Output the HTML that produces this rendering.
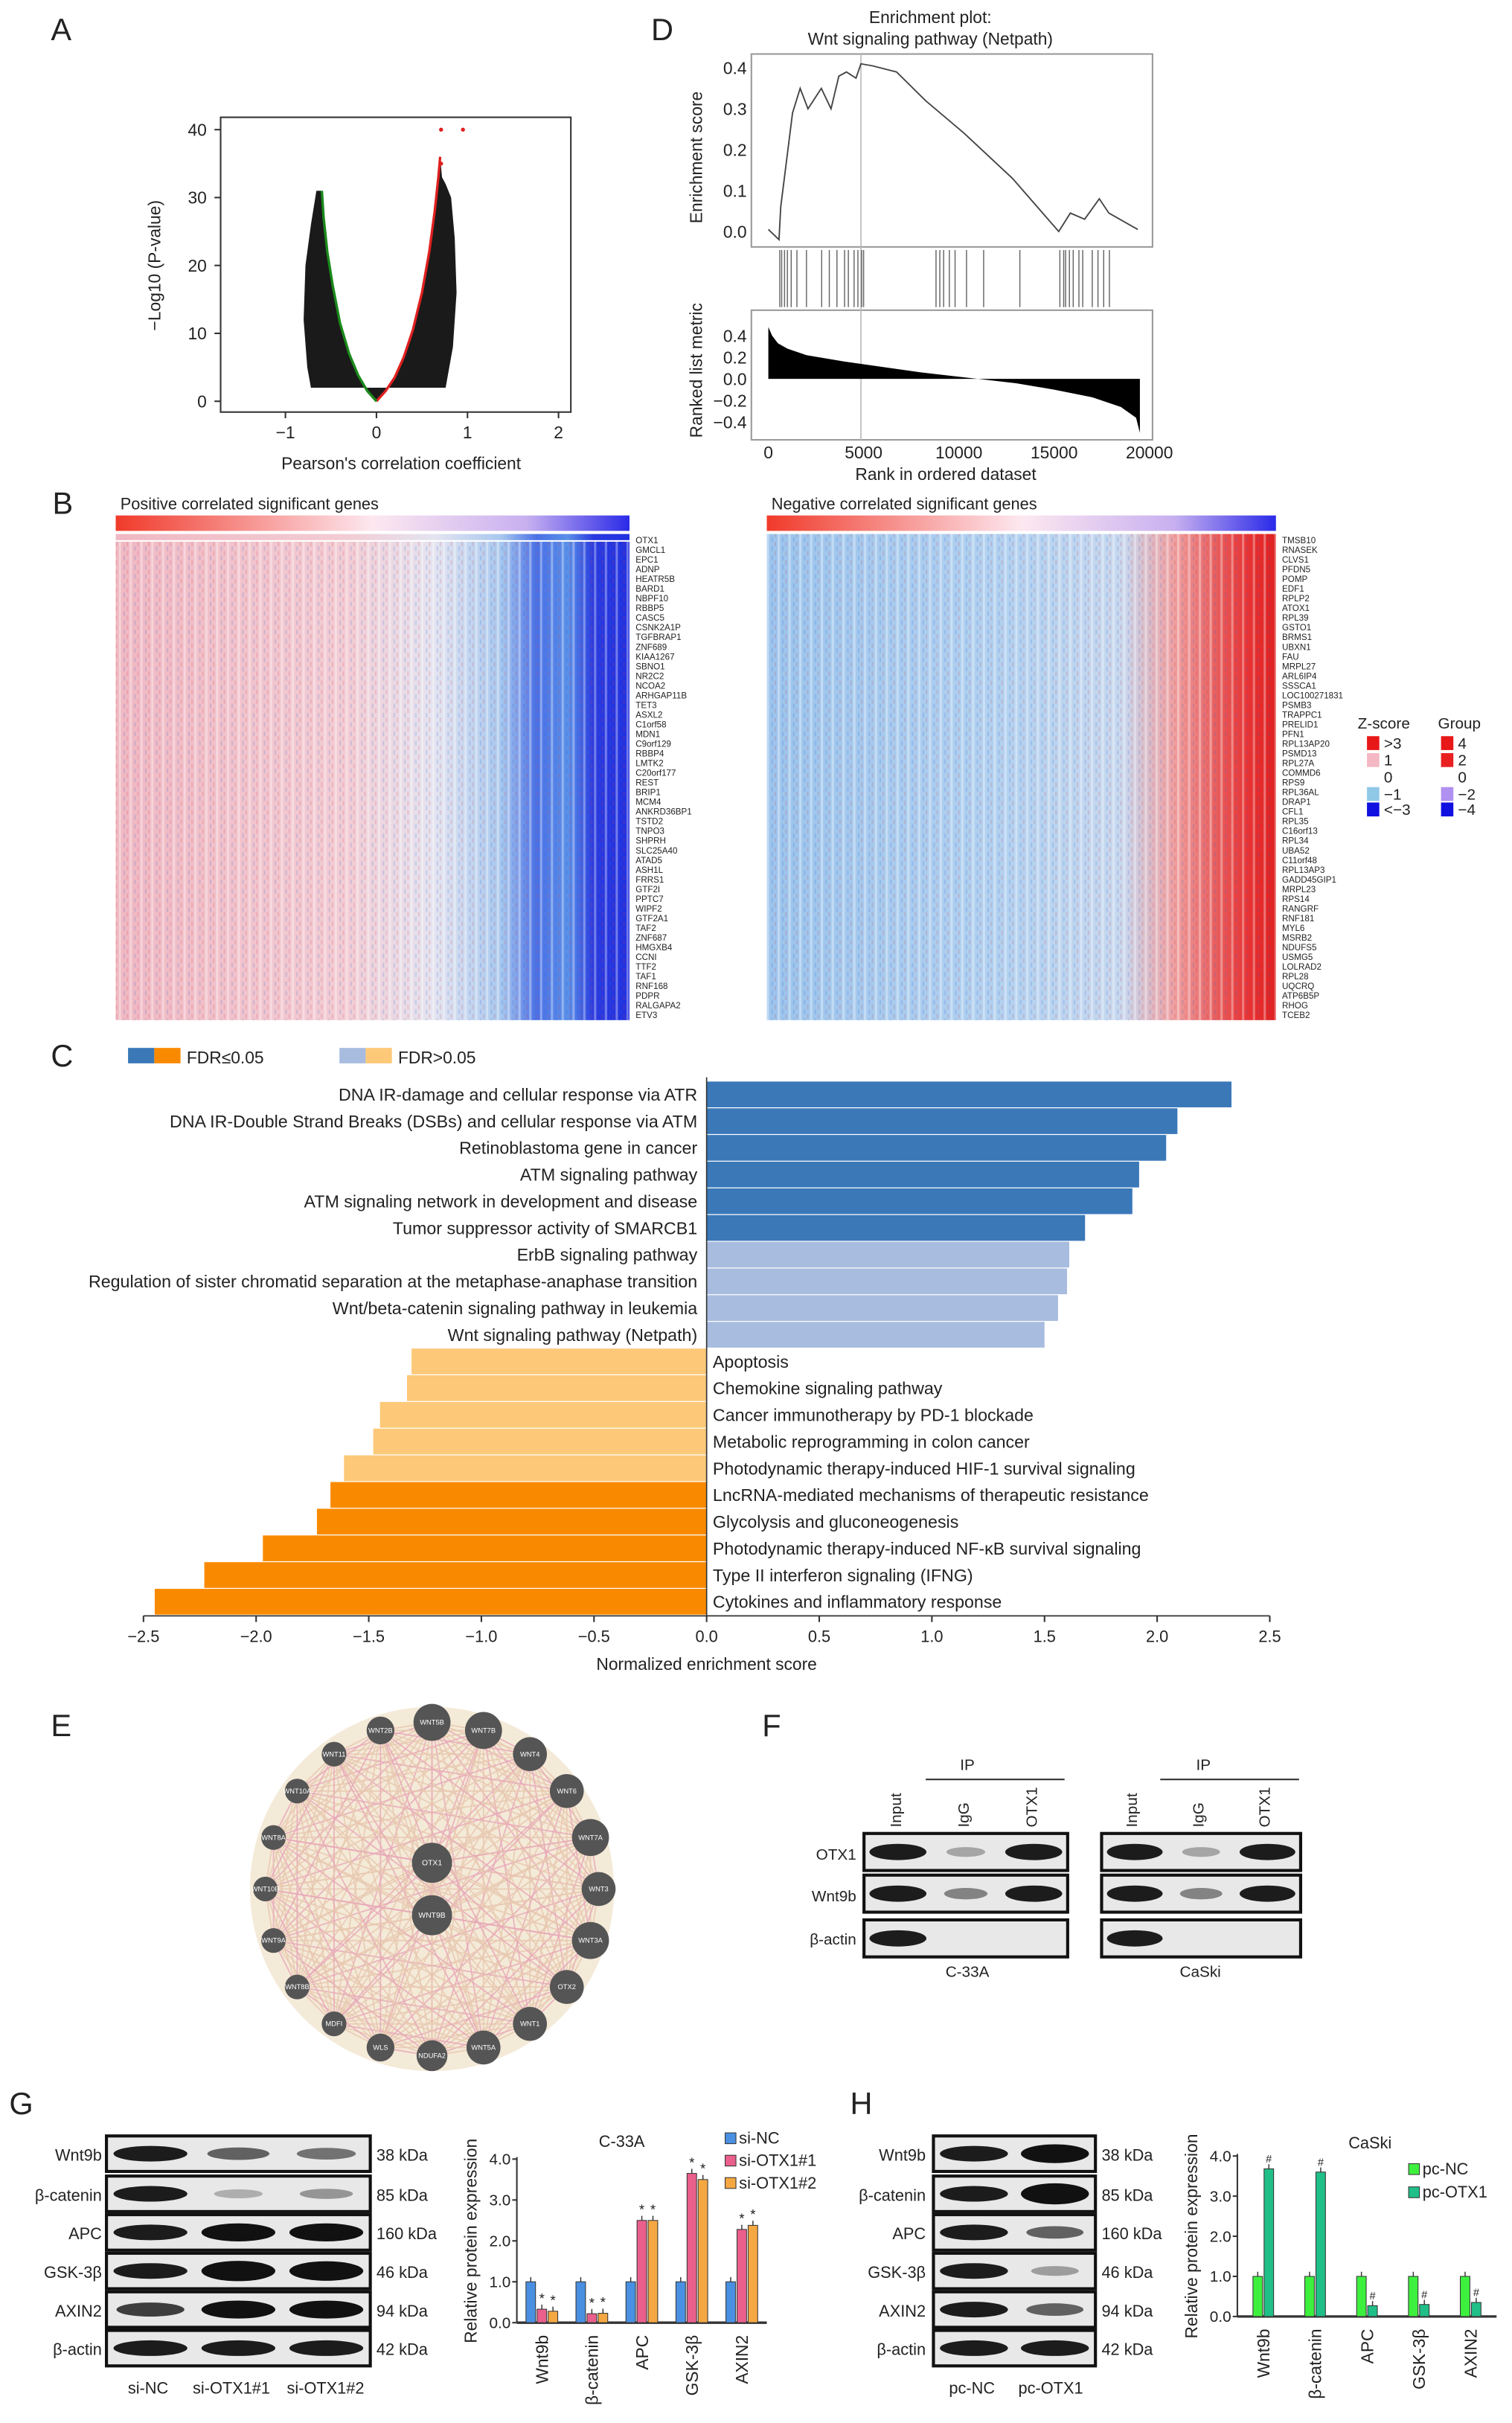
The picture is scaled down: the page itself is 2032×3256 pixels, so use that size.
<!DOCTYPE html>
<html><head><meta charset="utf-8"><style>
html,body{margin:0;padding:0;background:#fff}
svg{display:block}
text{font-family:"Liberation Sans",sans-serif;fill:#222}
</style></head><body>
<svg id="fig" width="2032" height="3256" viewBox="0 0 980 1570" preserveAspectRatio="none" xmlns="http://www.w3.org/2000/svg">
<defs>
<linearGradient id="rb2" x1="0" x2="1"><stop offset="0" stop-color="#f03a2a"/><stop offset="0.5" stop-color="#fde8f0"/><stop offset="0.8" stop-color="#c8b0f0"/><stop offset="1" stop-color="#2a2ae8"/></linearGradient>
<linearGradient id="hmL" x1="0" x2="1"><stop offset="0" stop-color="#f0b8c2"/><stop offset="0.45" stop-color="#f2ccd4"/><stop offset="0.62" stop-color="#e4e4f0"/><stop offset="0.75" stop-color="#a8c8ee"/><stop offset="0.82" stop-color="#4a70e6"/><stop offset="0.88" stop-color="#5a90e8"/><stop offset="0.93" stop-color="#2a3ae0"/><stop offset="1" stop-color="#2030e0"/></linearGradient>
<linearGradient id="hmR" x1="0" x2="1"><stop offset="0" stop-color="#9cc4ec"/><stop offset="0.5" stop-color="#b4d2f0"/><stop offset="0.7" stop-color="#c8d8ee"/><stop offset="0.8" stop-color="#f0a0a0"/><stop offset="0.88" stop-color="#e86060"/><stop offset="0.95" stop-color="#e83030"/><stop offset="1" stop-color="#e02020"/></linearGradient>
<pattern id="tex" width="7" height="6" patternUnits="userSpaceOnUse"><rect x="0" y="0" width="1.5" height="6" fill="#fff" opacity="0.35"/><rect x="3" y="0" width="1" height="3" fill="#3060d0" opacity="0.18"/><rect x="5" y="3" width="1" height="3" fill="#d04050" opacity="0.18"/></pattern>
</defs>

<g font-size="20">
<text x="33" y="26">A</text><text x="422" y="26">D</text><text x="34" y="333">B</text><text x="33" y="691">C</text><text x="33" y="1125">E</text><text x="494" y="1125">F</text><text x="6" y="1370">G</text><text x="551" y="1370">H</text>
</g>

<!-- Panel A -->
<g id="volcano">
<rect x="143" y="76" width="227" height="191" fill="none" stroke="#333" stroke-width="1"/>
<text transform="translate(104,172) rotate(-90)" text-anchor="middle" font-size="11">−Log10 (P-value)</text>
<text x="260" y="304" text-anchor="middle" font-size="11">Pearson's correlation coefficient</text>
</g>

<!-- Panel D -->
<g id="gsea">
<text x="603" y="15" text-anchor="middle" font-size="11">Enrichment plot:</text>
<text x="603" y="29" text-anchor="middle" font-size="11">Wnt signaling pathway (Netpath)</text>
<rect x="487" y="35" width="260" height="125" fill="none" stroke="#999"/>
<rect x="487" y="201" width="260" height="84" fill="none" stroke="#999"/>
<text transform="translate(455,102) rotate(-90)" text-anchor="middle" font-size="11">Enrichment score</text>
<text transform="translate(455,240) rotate(-90)" text-anchor="middle" font-size="11">Ranked list metric</text>
<text x="613" y="311" text-anchor="middle" font-size="11">Rank in ordered dataset</text>
</g>

<!-- Panel B -->
<g>
<text x="78" y="330" font-size="10.5">Positive correlated significant genes</text>
<text x="500" y="330" font-size="10.5">Negative correlated significant genes</text>
<rect x="75" y="334" width="333" height="10" fill="url(#rb2)"/>
<rect x="497" y="334" width="330" height="10" fill="url(#rb2)"/>
<rect x="75" y="346" width="333" height="4" fill="url(#hmL)"/>
<rect x="75" y="351" width="333" height="310" fill="url(#hmL)"/>
<rect x="75" y="351" width="333" height="310" fill="url(#tex)"/>
<rect x="497" y="346" width="330" height="315" fill="url(#hmR)"/>
<rect x="497" y="346" width="330" height="315" fill="url(#tex)"/>
<g id="genesL" font-size="5.6"></g><g id="genesR" font-size="5.6"></g>
<g font-size="10">
<text x="880" y="472">Z-score</text><text x="932" y="472">Group</text>
<rect x="886" y="477" width="8" height="9" fill="#e81818"/><text x="897" y="485">&gt;3</text>
<rect x="886" y="488" width="8" height="9" fill="#f4b8c4"/><text x="897" y="496">1</text>
<text x="897" y="507">0</text>
<rect x="886" y="510" width="8" height="9" fill="#90c8e8"/><text x="897" y="518">−1</text>
<rect x="886" y="520" width="8" height="9" fill="#1010e0"/><text x="897" y="528">&lt;−3</text>
<rect x="934" y="477" width="8" height="9" fill="#e81818"/><text x="945" y="485">4</text>
<rect x="934" y="488" width="8" height="9" fill="#e82020"/><text x="945" y="496">2</text>
<text x="945" y="507">0</text>
<rect x="934" y="510" width="8" height="9" fill="#b090f0"/><text x="945" y="518">−2</text>
<rect x="934" y="520" width="8" height="9" fill="#1010e0"/><text x="945" y="528">−4</text>
</g>
</g>

<!-- Panel C -->
<g id="nes">
<g font-size="11">
<rect x="83" y="679" width="17" height="10" fill="#3a78b8"/><rect x="100" y="679" width="17" height="10" fill="#f98a00"/><text x="121" y="689">FDR≤0.05</text>
<rect x="220" y="679" width="17" height="10" fill="#a8bce0"/><rect x="237" y="679" width="17" height="10" fill="#fdc878"/><text x="258" y="689">FDR&gt;0.05</text>
</g>
<text x="458" y="1082" text-anchor="middle" font-size="11">Normalized enrichment score</text>
</g>

<!-- Panel E -->
<g id="net">
<circle cx="280" cy="1224" r="118" fill="#f4ead8"/>
</g>

<!-- Panel F -->
<g font-size="10">
<text x="627" y="1147" text-anchor="middle">IP</text><line x1="600" y1="1153" x2="690" y2="1153" stroke="#333"/>
<text x="780" y="1147" text-anchor="middle">IP</text><line x1="752" y1="1153" x2="842" y2="1153" stroke="#333"/>
<g id="fblots"></g>
<text x="555" y="1205" text-anchor="end">OTX1</text><text x="555" y="1232" text-anchor="end">Wnt9b</text><text x="555" y="1260" text-anchor="end">β-actin</text>
<text x="627" y="1281" text-anchor="middle">C-33A</text><text x="778" y="1281" text-anchor="middle">CaSki</text>
</g>

<g id="wb" font-size="10.5"></g>
<g id="barG"></g>
<g id="barH"></g>
</svg>

<script>
const NS='http://www.w3.org/2000/svg';
function mk(tag,attrs,parent,txt){const e=document.createElementNS(NS,tag);for(const k in attrs)e.setAttribute(k,attrs[k]);if(txt!==undefined)e.textContent=txt;parent.appendChild(e);return e;}

// ---------- Panel A data ----------
const volTicksX=[-1,0,1,2];
const volTicksY=[0,10,20,30,40];
const redR=[0,0.1,0.2,0.3,0.4,0.5,0.58,0.64,0.68,0.7];
const redP=[0,1.5,3.5,6.5,10.5,16,22,28,33,36];
const greenR=[0,-0.1,-0.2,-0.3,-0.4,-0.48,-0.54,-0.58,-0.6];
const greenP=[0,1.5,3.8,7,11.5,17,22,27,31];
const cloudR=[-0.6,-0.66,-0.72,-0.78,-0.8,-0.76,-0.72,-0.3,0.3,0.76,0.84,0.88,0.86,0.82,0.76,0.72];
const cloudP=[31,31,26,20,12,5,2,2,2,2,8,16,24,30,32,33];
(function(){
 const g=document.getElementById('volcano');
 const X=v=>244+v*59, Y=v=>260-v*4.4;
 volTicksX.forEach(t=>{mk('line',{x1:X(t),y1:267,x2:X(t),y2:271,stroke:'#333'},g);const e=mk('text',{x:X(t),y:284,'text-anchor':'middle','font-size':11},g,t<0?'−'+(-t):t);});
 volTicksY.forEach(t=>{mk('line',{x1:139,y1:Y(t),x2:143,y2:Y(t),stroke:'#333'},g);const e=mk('text',{x:134,y:Y(t)+4,'text-anchor':'end','font-size':11},g,t);});
 let pts=[];
 for(let i=0;i<greenR.length;i++)pts.push(X(greenR[i])+','+Y(greenP[i]));
 for(let i=0;i<cloudR.length;i++)pts.push(X(cloudR[i])+','+Y(cloudP[i]));
 for(let i=redR.length-1;i>=0;i--)pts.push(X(redR[i])+','+Y(redP[i]));
 const cl=mk('polygon',{points:pts.join(' '),fill:'#1a1a1a'},g);
 
 const rl=mk('polyline',{points:redR.map((r,i)=>X(r)+','+Y(redP[i])).join(' '),fill:'none',stroke:'#e02020','stroke-width':1.6},g);
 
 const gl=mk('polyline',{points:greenR.map((r,i)=>X(r)+','+Y(greenP[i])).join(' '),fill:'none',stroke:'#1a8a1a','stroke-width':1.6},g);
 
 [[0.71,40],[0.95,40],[0.71,35]].forEach(p=>mk('circle',{cx:X(p[0]),cy:Y(p[1]),r:1.3,fill:'#e02020'},g));
})();

// ---------- Panel D data ----------
const esRank=[0,560,650,1270,1670,2080,2780,3290,3700,4100,4600,4860,5470,6730,8250,10280,12810,15240,15850,16600,17370,17870,19390];
const esVal=[0.005,-0.02,0.06,0.29,0.35,0.30,0.35,0.30,0.38,0.39,0.375,0.41,0.405,0.39,0.32,0.24,0.13,0.0,0.045,0.03,0.08,0.045,0.005];
const hitRanks=[600,700,850,1000,1200,1500,2000,2800,3200,3600,4000,4200,4500,4700,4900,5000,8800,9000,9200,9500,9800,10400,11300,13200,15300,15500,15600,15800,16000,16300,16500,17000,17300,17600,17900];
const metRank=[0,200,500,1000,2000,4000,6000,8000,10000,11000,13000,15000,17000,18500,19300,19500];
const metVal=[0.48,0.40,0.33,0.28,0.22,0.16,0.11,0.06,0.02,0,-0.04,-0.10,-0.17,-0.26,-0.36,-0.50];
const esTicks=[0,0.1,0.2,0.3,0.4];
const metTicks=[-0.4,-0.2,0,0.2,0.4];
const rankTicks=[0,5000,10000,15000,20000];
(function(){
 const g=document.getElementById('gsea');
 const X=r=>498+r*247/20000, YE=v=>150-v*265, YM=v=>245.5-v*70;
 esTicks.forEach(t=>mk('text',{x:484,y:YE(t)+4,'text-anchor':'end','font-size':11},g,t.toFixed(1)));
 metTicks.forEach(t=>mk('text',{x:484,y:YM(t)+4,'text-anchor':'end','font-size':11},g,t<0?'−'+(-t).toFixed(1):t.toFixed(1)));
 rankTicks.forEach(t=>mk('text',{x:X(t),y:297,'text-anchor':'middle','font-size':11},g,t));
 mk('line',{x1:X(4860),y1:35,x2:X(4860),y2:285,stroke:'#bbb','stroke-width':0.8},g);
 const es=mk('polyline',{points:esRank.map((r,i)=>X(r)+','+YE(esVal[i])).join(' '),fill:'none',stroke:'#444','stroke-width':0.9},g);
 
 hitRanks.forEach(r=>{const l=mk('line',{x1:X(r),y1:162,x2:X(r),y2:199,stroke:'#666','stroke-width':0.7},g);});
 const p=[X(0)+','+YM(0)].concat(metRank.map((r,i)=>X(r)+','+YM(metVal[i]))).concat([X(19500)+','+YM(0)]);
 const m=mk('polygon',{points:p.join(' '),fill:'#000'},g);
 
})();

// ---------- Panel B gene labels ----------
const genesLeft=['OTX1','GMCL1','EPC1','ADNP','HEATR5B','BARD1','NBPF10','RBBP5','CASC5','CSNK2A1P','TGFBRAP1','ZNF689','KIAA1267','SBNO1','NR2C2','NCOA2','ARHGAP11B','TET3','ASXL2','C1orf58','MDN1','C9orf129','RBBP4','LMTK2','C20orf177','REST','BRIP1','MCM4','ANKRD36BP1','TSTD2','TNPO3','SHPRH','SLC25A40','ATAD5','ASH1L','FRRS1','GTF2I','PPTC7','WIPF2','GTF2A1','TAF2','ZNF687','HMGXB4','CCNI','TTF2','TAF1','RNF168','PDPR','RALGAPA2','ETV3'];
const genesRight=['TMSB10','RNASEK','CLVS1','PFDN5','POMP','EDF1','RPLP2','ATOX1','RPL39','GSTO1','BRMS1','UBXN1','FAU','MRPL27','ARL6IP4','SSSCA1','LOC100271831','PSMB3','TRAPPC1','PRELID1','PFN1','RPL13AP20','PSMD13','RPL27A','COMMD6','RPS9','RPL36AL','DRAP1','CFL1','RPL35','C16orf13','RPL34','UBA52','C11orf48','RPL13AP3','GADD45GIP1','MRPL23','RPS14','RANGRF','RNF181','MYL6','MSRB2','NDUFS5','USMG5','LOLRAD2','RPL28','UQCRQ','ATP6B5P','RHOG','TCEB2'];
genesLeft.forEach((n,i)=>{const e=mk('text',{x:412,y:352+i*6.28},document.getElementById('genesL'),n);});
genesRight.forEach((n,i)=>{const e=mk('text',{x:831,y:352+i*6.28},document.getElementById('genesR'),n);});

// ---------- Panel C data ----------
const pathways=['DNA IR-damage and cellular response via ATR','DNA IR-Double Strand Breaks (DSBs) and cellular response via ATM','Retinoblastoma gene in cancer','ATM signaling pathway','ATM signaling network in development and disease','Tumor suppressor activity of SMARCB1','ErbB signaling pathway','Regulation of sister chromatid separation at the metaphase-anaphase transition','Wnt/beta-catenin signaling pathway in leukemia','Wnt signaling pathway (Netpath)','Apoptosis','Chemokine signaling pathway','Cancer immunotherapy by PD-1 blockade','Metabolic reprogramming in colon cancer','Photodynamic therapy-induced HIF-1 survival signaling','LncRNA-mediated mechanisms of therapeutic resistance','Glycolysis and gluconeogenesis','Photodynamic therapy-induced NF-κB survival signaling','Type II interferon signaling (IFNG)','Cytokines and inflammatory response'];
const nesValues=[2.33,2.09,2.04,1.92,1.89,1.68,1.61,1.60,1.56,1.50,-1.31,-1.33,-1.45,-1.48,-1.61,-1.67,-1.73,-1.97,-2.23,-2.45];
const fdrSig=[1,1,1,1,1,1,0,0,0,0,0,0,0,0,0,1,1,1,1,1];
const nesTicks=[-2.5,-2.0,-1.5,-1.0,-0.5,0,0.5,1.0,1.5,2.0,2.5];
(function(){
 const g=document.getElementById('nes');
 const X=v=>458+v*146, bandH=17.3, y0=700.5;
 nesValues.forEach((v,i)=>{
  const y=y0+i*bandH;
  const col=v>0?(fdrSig[i]?'#3a78b8':'#a8bce0'):(fdrSig[i]?'#f98a00':'#fdc878');
  const r=mk('rect',{x:Math.min(X(0),X(v)),y:y+0.3,width:Math.abs(X(v)-X(0)),height:bandH-0.6,fill:col},g);
  
  const t=mk('text',{x:v>0?452:462,y:y+bandH/2+4,'text-anchor':v>0?'end':'start','font-size':11.2},g,pathways[i]);
  
 });
 mk('line',{x1:X(0),y1:698,x2:X(0),y2:1047,stroke:'#333','stroke-width':0.8},g);
 mk('line',{x1:X(-2.5),y1:1047,x2:X(2.5),y2:1047,stroke:'#333','stroke-width':0.8},g);
 nesTicks.forEach(t=>{mk('line',{x1:X(t),y1:1047,x2:X(t),y2:1051,stroke:'#333'},g);mk('text',{x:X(t),y:1064,'text-anchor':'middle','font-size':10.5},g,t<0?'−'+(-t).toFixed(1):t.toFixed(1));});
})();

// ---------- Panel E ----------
const netNodes=['WNT5B','WNT7B','WNT4','WNT6','WNT7A','WNT3','WNT3A','OTX2','WNT1','WNT5A','NDUFA2','WLS','MDFI','WNT8B','WNT9A','WNT10B','WNT8A','WNT10A','WNT11','WNT2B'];
const netSizes=[12,12,11,11,12,11,12,11,11,11,10,9,8,8,8,8,8,8,8,9];
(function(){
 const g=document.getElementById('net'),cx=280,cy=1224,R=108;
 const pos=netNodes.map((n,i)=>{const a=-Math.PI/2+i*2*Math.PI/netNodes.length;return [cx+R*Math.cos(a),cy+R*Math.sin(a)];});
 const all=pos.concat([[cx,cy-17],[cx,cy+17]]);
 for(let i=0;i<all.length;i++)for(let j=i+1;j<all.length;j++){
  mk('line',{x1:all[i][0],y1:all[i][1],x2:all[j][0],y2:all[j][1],stroke:(i+j)%3?'#e8c8b0':'#e8a8b8','stroke-width':0.9,opacity:0.8},g);
 }
 netNodes.forEach((n,i)=>{const c=mk('circle',{cx:pos[i][0],cy:pos[i][1],r:netSizes[i],fill:'#555'},g);
  mk('text',{x:pos[i][0],y:pos[i][1]+1.5,'text-anchor':'middle','font-size':4.5,style:'fill:#fff'},g,n);});
 [['OTX1',cy-17],['WNT9B',cy+17]].forEach(a=>{const c=mk('circle',{cx:cx,cy:a[1],r:13,fill:'#555'},g);
  mk('text',{x:cx,y:a[1]+1.5,'text-anchor':'middle','font-size':5,style:'fill:#fff'},g,a[0]);});
})();

// ---------- Blots ----------
function blot(g,x,y,w,h,lanes){
 mk('rect',{x:x,y:y,width:w,height:h,fill:'#e8e8e8',stroke:'#111','stroke-width':2},g);
 const lw=w/lanes.length;
 lanes.forEach((v,i)=>{if(v<=0.02)return;const e=mk('ellipse',{cx:x+lw*(i+0.5),cy:y+h/2,rx:lw*0.42*Math.min(1,0.6+v*0.4),ry:h*0.22*Math.min(1.8,0.5+v*0.5),fill:'#111',opacity:Math.min(1,0.15+v*0.8)},g);});
}
(function(){
 const f=document.getElementById('fblots');
 const rowsF=[[1188,[1,0.2,1]],[1215,[1,0.4,1]],[1244,[1,0,0]]];
 rowsF.forEach(r=>{blot(f,560,r[0],132,24,r[1]);blot(f,714,r[0],129,24,r[1]);});
 [['Input',0],['IgG',1],['OTX1',2]].forEach(c=>{
  mk('text',{transform:`translate(${584+c[1]*44},1184) rotate(-90)`,'font-size':10},f,c[0]);
  mk('text',{transform:`translate(${737+c[1]*43},1184) rotate(-90)`,'font-size':10},f,c[0]);
 });
 const wb=document.getElementById('wb');
 const prot=['Wnt9b','β-catenin','APC','GSK-3β','AXIN2','β-actin'];
 const kda=['38 kDa','85 kDa','160 kDa','46 kDa','94 kDa','42 kDa'];
 const rowY=[1384,1410,1435,1460,1485,1510];
 const gL=[[1,0.6,0.5],[1,0.15,0.3],[1,1.3,1.3],[1,1.6,1.5],[0.8,1.3,1.3],[1,1,1]];
 const hL=[[1,1.4],[1,1.7],[1,0.6],[1,0.25],[1,0.6],[1,1]];
 prot.forEach((p,i)=>{
  blot(wb,69,rowY[i],171,23,gL[i]);blot(wb,605,rowY[i],105,23,hL[i]);
  mk('text',{x:66,y:rowY[i]+16,'text-anchor':'end'},wb,p);mk('text',{x:600,y:rowY[i]+16,'text-anchor':'end'},wb,p);
  mk('text',{x:244,y:rowY[i]+16},wb,kda[i]);mk('text',{x:714,y:rowY[i]+16},wb,kda[i]);
 });
 [['si-NC',96],['si-OTX1#1',150],['si-OTX1#2',211]].forEach(a=>mk('text',{x:a[1],y:1551,'text-anchor':'middle'},wb,a[0]));
 [['pc-NC',630],['pc-OTX1',681]].forEach(a=>mk('text',{x:a[1],y:1551,'text-anchor':'middle'},wb,a[0]));
})();

// ---------- Panel G/H bar charts ----------
const proteins=['Wnt9b','β-catenin','APC','GSK-3β','AXIN2'];
const c33aSiNC=[1.0,1.0,1.0,1.0,1.0];
const c33aSiOTX1a=[0.33,0.22,2.50,3.65,2.28];
const c33aSiOTX1b=[0.28,0.23,2.50,3.50,2.38];
const caskiPcNC=[1.0,1.0,1.0,1.0,1.0];
const caskiPcOTX1=[3.68,3.60,0.27,0.30,0.35];
const expTicks=[0,1,2,3,4];
function barChart(g,o){
 const Y=v=>o.y0-v*o.k;
 mk('line',{x1:o.ax,y1:Y(0),x2:o.ax,y2:Y(4.05),stroke:'#333'},g);
 mk('line',{x1:o.ax,y1:Y(0),x2:o.xe,y2:Y(0),stroke:'#333','stroke-width':1.6},g);
 expTicks.forEach(t=>{mk('line',{x1:o.ax-3,y1:Y(t),x2:o.ax,y2:Y(t),stroke:'#333'},g);mk('text',{x:o.ax-4,y:Y(t)+3.5,'text-anchor':'end','font-size':10},g,t.toFixed(1));});
 mk('text',{transform:`translate(${o.ax-26},${Y(2)}) rotate(-90)`,'text-anchor':'middle','font-size':11},g,'Relative protein expression');
 mk('text',{x:o.tx,y:o.ty,'text-anchor':'middle','font-size':10.5},g,o.title);
 const gw=(o.xe-o.ax)/proteins.length, n=o.series.length, bw=6.2;
 proteins.forEach((p,i)=>{
  const c=o.ax+gw*(i+0.5);
  o.series.forEach((s,j)=>{
   const x=c+(j-(n-1)/2)*(bw+1)-bw/2, v=s[i];
   const r=mk('rect',{x:x,y:Y(v),width:bw,height:Y(0)-Y(v),fill:o.colors[j],stroke:'#333','stroke-width':0.5},g);
   
   mk('line',{x1:x+bw/2,y1:Y(v)-3,x2:x+bw/2,y2:Y(v),stroke:'#333','stroke-width':0.7},g);
   if(j>0){mk('text',{x:x+bw/2,y:Y(v)-4,'text-anchor':'middle','font-size':o.mark=='*'?9:7},g,o.mark);}
  });
  mk('text',{transform:`translate(${c+4},${Y(0)+8}) rotate(-90)`,'text-anchor':'end','font-size':11},g,p);
 });
 o.labels.forEach((l,j)=>{mk('rect',{x:o.lx,y:o.ly+j*o.ld-7,width:7,height:7,fill:o.colors[j],stroke:'#333','stroke-width':0.5},g);mk('text',{x:o.lx+9,y:o.ly+j*o.ld,'font-size':10.5},g,l);});
}
barChart(document.getElementById('barG'),{ax:335,xe:497,y0:1505,k:26.5,series:[c33aSiNC,c33aSiOTX1a,c33aSiOTX1b],colors:['#4a90e2','#ea5f8c','#f5a742'],title:'C-33A',tx:403,ty:1391,mark:'*',labels:['si-NC','si-OTX1#1','si-OTX1#2'],lx:470,ly:1389,ld:14.5});
barChart(document.getElementById('barH'),{ax:802,xe:970,y0:1501,k:26,series:[caskiPcNC,caskiPcOTX1],colors:['#3ef03e','#20bf88'],title:'CaSki',tx:888,ty:1392,mark:'#',labels:['pc-NC','pc-OTX1'],lx:913,ly:1409,ld:15});
</script>
</body></html>
